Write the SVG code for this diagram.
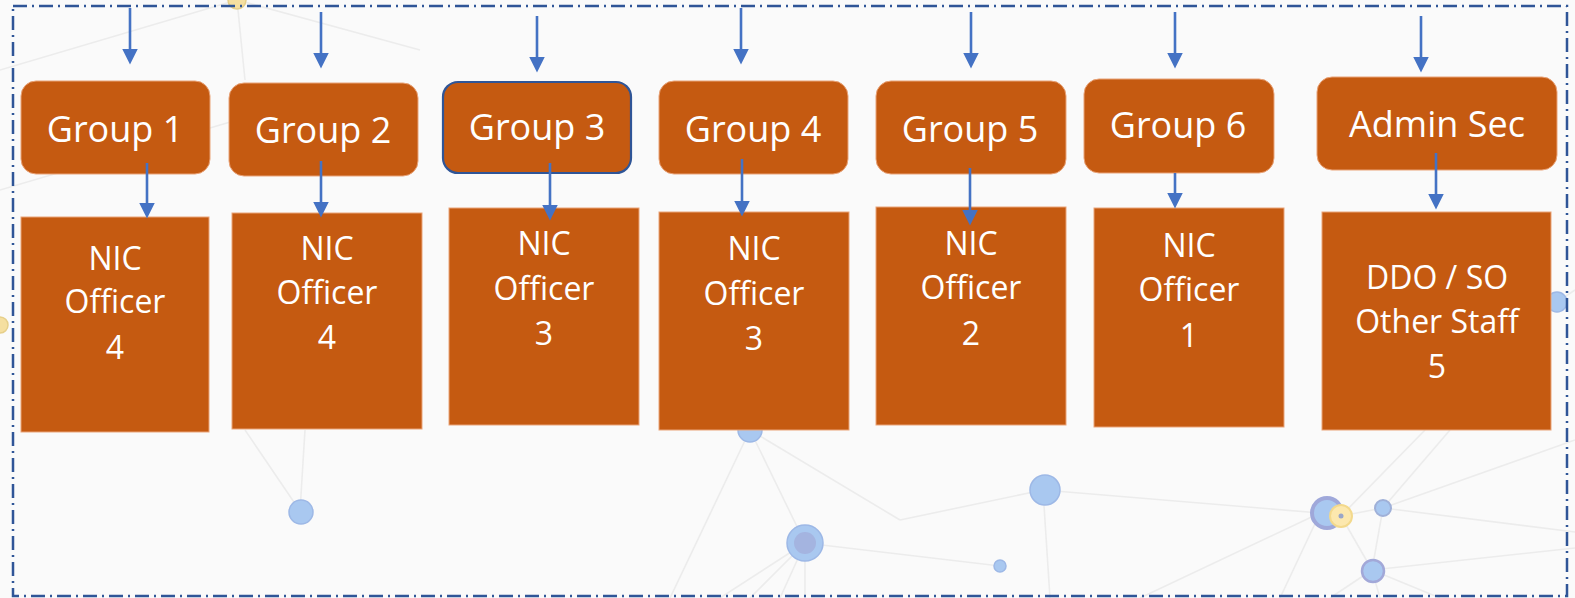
<svg xmlns="http://www.w3.org/2000/svg" width="1575" height="598" viewBox="0 0 1575 598">
<style>
.grp{fill:#C55A11;stroke:#E9A378;stroke-width:1}
.box{fill:#C55A11;stroke:#E9A378;stroke-width:1}
.t1{font-family:"Open Sans","Noto Sans",sans-serif;font-size:36px;fill:#FFFFFF;text-anchor:middle}
.t2{font-family:"Open Sans","Noto Sans",sans-serif;font-size:32px;fill:#FFFFFF;text-anchor:middle}
.arr{stroke:#4472C4;stroke-width:2.6;fill:none;marker-end:url(#ah)}
.bl{stroke:#ECECEC;stroke-width:1.6;fill:none}
.nd{fill:#A9C8F0;stroke:#9DB8E6;stroke-width:1.5}
</style>
<defs>
<marker id="ah" markerUnits="userSpaceOnUse" markerWidth="16" markerHeight="16" viewBox="0 0 15 15" refX="7" refY="7.5" orient="auto">
<path d="M0,0 L15,7.5 L0,15 z" fill="#4472C4"/>
</marker>
</defs>
<rect x="0" y="0" width="1575" height="598" fill="#FAFAFA"/>
<g id="background">
<line class="bl" x1="237" y1="0" x2="245" y2="80"/>
<line class="bl" x1="237" y1="0" x2="0" y2="70"/>
<line class="bl" x1="237" y1="0" x2="420" y2="50"/>
<line class="bl" x1="0" y1="190" x2="237" y2="120"/>
<line class="bl" x1="300" y1="511" x2="245" y2="430"/>
<line class="bl" x1="300" y1="511" x2="305" y2="430"/>
<line class="bl" x1="750" y1="430" x2="805" y2="543"/>
<line class="bl" x1="750" y1="430" x2="670" y2="598"/>
<line class="bl" x1="750" y1="430" x2="900" y2="520"/>
<line class="bl" x1="805" y1="543" x2="720" y2="598"/>
<line class="bl" x1="805" y1="543" x2="750" y2="598"/>
<line class="bl" x1="805" y1="543" x2="780" y2="598"/>
<line class="bl" x1="805" y1="543" x2="805" y2="598"/>
<line class="bl" x1="805" y1="543" x2="1000" y2="566"/>
<line class="bl" x1="1043" y1="490" x2="1320" y2="513"/>
<line class="bl" x1="1043" y1="490" x2="1050" y2="598"/>
<line class="bl" x1="1043" y1="490" x2="900" y2="520"/>
<line class="bl" x1="1320" y1="513" x2="1140" y2="598"/>
<line class="bl" x1="1320" y1="513" x2="1280" y2="598"/>
<line class="bl" x1="1341" y1="516" x2="1425" y2="430"/>
<line class="bl" x1="1383" y1="508" x2="1450" y2="430"/>
<line class="bl" x1="1341" y1="516" x2="1383" y2="508"/>
<line class="bl" x1="1383" y1="508" x2="1575" y2="440"/>
<line class="bl" x1="1383" y1="508" x2="1575" y2="532"/>
<line class="bl" x1="1341" y1="516" x2="1372" y2="570"/>
<line class="bl" x1="1383" y1="508" x2="1372" y2="570"/>
<line class="bl" x1="1372" y1="570" x2="1575" y2="548"/>
<line class="bl" x1="1372" y1="570" x2="1440" y2="598"/>
<line class="bl" x1="1372" y1="570" x2="1380" y2="598"/>
<line class="bl" x1="1372" y1="570" x2="1330" y2="598"/>
<line class="bl" x1="1557" y1="302" x2="1575" y2="290"/>
<circle cx="237" cy="0" r="9" fill="#F5DFA0" stroke="#E6CF8A" stroke-width="1.5"/>
<circle cx="0" cy="325" r="8" fill="#F5DFA0" stroke="#E6CF8A" stroke-width="1.5"/>
<circle class="nd" cx="750" cy="430" r="12"/>
<circle class="nd" cx="301" cy="512" r="12"/>
<circle class="nd" cx="805" cy="543" r="18"/>
<circle cx="805" cy="543" r="11" fill="#A4B4E0"/>
<circle class="nd" cx="1045" cy="490" r="15"/>
<circle class="nd" cx="1000" cy="566" r="6"/>
<circle cx="1327" cy="513" r="15" fill="#A9C8F0" stroke="#9FA8DA" stroke-width="4"/>
<circle cx="1341" cy="516" r="11" fill="#FCE8AE" stroke="#F3D98C" stroke-width="2"/>
<circle cx="1341" cy="516" r="2.5" fill="#9AA6C8"/>
<circle cx="1383" cy="508" r="8" fill="#A9C8F0" stroke="#9FB0D8" stroke-width="2"/>
<circle cx="1373" cy="571" r="11" fill="#A9C8F0" stroke="#A2A8D8" stroke-width="2.5"/>
<circle class="nd" cx="1557" cy="302" r="10"/>
</g>
<rect x="13" y="6" width="1554" height="590" fill="none" stroke="#2F5597" stroke-width="2.5" stroke-dasharray="14 5 2 5"/>
<g id="connectors">
<line class="arr" x1="130" y1="8" x2="130" y2="56"/>
<line class="arr" x1="321" y1="12" x2="321" y2="60"/>
<line class="arr" x1="537" y1="16" x2="537" y2="64"/>
<line class="arr" x1="741" y1="8" x2="741" y2="56"/>
<line class="arr" x1="971" y1="12" x2="971" y2="60"/>
<line class="arr" x1="1175" y1="12" x2="1175" y2="60"/>
<line class="arr" x1="1421" y1="16" x2="1421" y2="64"/>
</g>
<g id="group1"><rect class="grp" x="21" y="81" width="189" height="93" rx="15"/><text class="t1" x="115" y="142">Group 1</text></g>
<g id="group2"><rect class="grp" x="229" y="83" width="189" height="93" rx="15"/><text class="t1" x="323" y="143">Group 2</text></g>
<g id="group3"><rect x="443" y="82" width="188" height="91" rx="15" fill="#C55A11" stroke="#2F5597" stroke-width="2.2"/><text class="t1" x="537" y="140">Group 3</text></g>
<g id="group4"><rect class="grp" x="659" y="81" width="189" height="93" rx="15"/><text class="t1" x="753" y="142">Group 4</text></g>
<g id="group5"><rect class="grp" x="876" y="81" width="190" height="93" rx="15"/><text class="t1" x="970" y="142">Group 5</text></g>
<g id="group6"><rect class="grp" x="1084" y="79" width="190" height="94" rx="15"/><text class="t1" x="1178" y="138">Group 6</text></g>
<g id="adminsec"><rect class="grp" x="1317" y="77" width="240" height="93" rx="15"/><text class="t1" x="1437" y="137">Admin Sec</text></g>
<g id="nic1"><rect class="box" x="21" y="217" width="188" height="215"/><text class="t2" x="115" y="270">NIC</text><text class="t2" x="115" y="313">Officer</text><text class="t2" x="115" y="359">4</text></g>
<g id="nic2"><rect class="box" x="232" y="213" width="190" height="216"/><text class="t2" x="327" y="260">NIC</text><text class="t2" x="327" y="304">Officer</text><text class="t2" x="327" y="349">4</text></g>
<g id="nic3"><rect class="box" x="449" y="208" width="190" height="217"/><text class="t2" x="544" y="255">NIC</text><text class="t2" x="544" y="300">Officer</text><text class="t2" x="544" y="345">3</text></g>
<g id="nic4"><rect class="box" x="659" y="212" width="190" height="218"/><text class="t2" x="754" y="260">NIC</text><text class="t2" x="754" y="305">Officer</text><text class="t2" x="754" y="350">3</text></g>
<g id="nic5"><rect class="box" x="876" y="207" width="190" height="218"/><text class="t2" x="971" y="255">NIC</text><text class="t2" x="971" y="299">Officer</text><text class="t2" x="971" y="345">2</text></g>
<g id="nic6"><rect class="box" x="1094" y="208" width="190" height="219"/><text class="t2" x="1189" y="257">NIC</text><text class="t2" x="1189" y="301">Officer</text><text class="t2" x="1189" y="347">1</text></g>
<g id="staff"><rect class="box" x="1322" y="212" width="229" height="218"/><text class="t2" x="1437" y="289">DDO / SO</text><text class="t2" x="1437" y="333">Other Staff</text><text class="t2" x="1437" y="378">5</text></g>
<g id="connectors-lower">
<line class="arr" x1="147" y1="163" x2="147" y2="210"/>
<line class="arr" x1="321" y1="161" x2="321" y2="209"/>
<line class="arr" x1="550" y1="163" x2="550" y2="212"/>
<line class="arr" x1="742" y1="159" x2="742" y2="208"/>
<line class="arr" x1="970" y1="168" x2="970" y2="217"/>
<line class="arr" x1="1175" y1="173" x2="1175" y2="200"/>
<line class="arr" x1="1436" y1="153" x2="1436" y2="201"/>
</g>
</svg>
